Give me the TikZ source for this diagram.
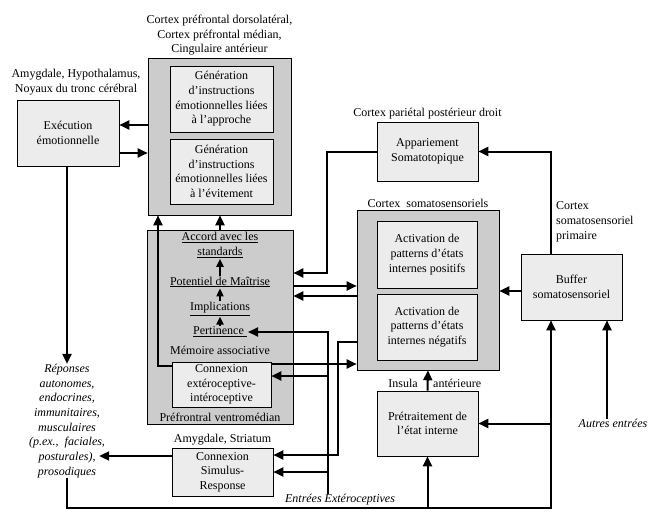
\documentclass[tikz,border=0pt]{standalone}
\usepackage{fontspec}
\setmainfont{Liberation Serif}
\usetikzlibrary{arrows.meta,positioning}

\begin{document}
\begin{tikzpicture}[x=1pt, y=-1pt,
  txt/.style={font=\fontsize{12}{14.7}\selectfont, align=center, inner sep=1pt},
  zone/.style={draw, rectangle, fill=gray!40, line width=0.6pt},
  bloc/.style={txt, draw, rectangle, fill=gray!15, line width=0.6pt},
  entree/.style={txt, inner sep=0pt, font=\fontsize{12}{14.7}\selectfont\itshape},
  ptr/.style={-{Triangle[length=10pt,width=9pt]}, line width=2pt},
  small/.style={-{Triangle[length=8pt,width=7pt]}, line width=2pt}
]
\useasboundingbox (0,0) rectangle (654,517);

% zones
\node[zone, minimum width=143pt, minimum height=157pt] (pfc) at (219.5,136.5) {};
\node[zone, minimum width=146pt, minimum height=194pt] (vmpfc) at (220,327) {};
\node[zone, minimum width=142pt, minimum height=160pt] (somato) at (428,290) {};

% blocs
\node[bloc, minimum width=103pt, minimum height=66pt] (approche) at (221.5,99) {Génération\\d’instructions\\émotionnelles liées\\à l’approche};
\node[bloc, minimum width=103pt, minimum height=65pt] (evitement) at (221.5,171.5) {Génération\\d’instructions\\émotionnelles liées\\à l’évitement};
\node[bloc, minimum width=102pt, minimum height=66pt] (exec) at (68,133) {Exécution\\émotionnelle};
\node[bloc, minimum width=99pt, minimum height=45pt] (cei) at (221.5,384.5) {Connexion\\extéroceptive-\\intéroceptive};
\node[bloc, minimum width=101pt, minimum height=48pt] (csr) at (222.5,472) {Connexion\\Simulus-\\Response};
\node[bloc, minimum width=101pt, minimum height=59pt] (appar) at (427.5,151.5) {Appariement\\Somatotopique};
\node[bloc, minimum width=100pt, minimum height=67pt] (positif) at (427,254.5) {Activation de\\patterns d’états\\internes positifs};
\node[bloc, minimum width=100pt, minimum height=66pt] (negatif) at (427,327) {Activation de\\patterns d’états\\internes négatifs};
\node[bloc, minimum width=101pt, minimum height=65pt] (pretr) at (427.5,423.5) {Prétraitement de\\l’état interne};
\node[bloc, minimum width=101pt, minimum height=66pt] (buffer) at (571.5,287) {Buffer\\somatosensoriel};

% labels
\node[txt, above=1pt of pfc] (pfclab) {Cortex préfrontal dorsolatéral,\\Cortex préfrontal médian,\\Cingulaire antérieur};
\node[txt] (execlab) at (76,82) {Amygdale, Hypothalamus,\\Noyaux du tronc cérébral};
\node[txt, above=1pt of appar] (apparlab) {Cortex pariétal postérieur droit};
\node[txt, above=1pt of somato] (somatolab) {Cortex~~somatosensoriels};
\node[txt, align=left, anchor=west] (primlab) at (555,222) {Cortex\\somatosensoriel\\primaire};
\node[txt, above=1pt of csr] (csrlab) {Amygdale, Striatum};
\node[txt, anchor=east] (insula) at (419,383) {Insula};
\node[txt, anchor=west] (anterieure) at (432,383) {antérieure};
\node[txt] (vmlab) at (220,417) {Préfrontral ventromédian};

% memoire associative
\node[txt] (accord) at (220,245) {\underline{Accord avec les}\\\underline{standards}};
\node[txt] (maitrise) at (220,282) {\underline{Potentiel de Maîtrise}};
\node[txt] (implic) at (220,309) {\underline{Implications}};
\node[txt] (pertin) at (220,332) {\underline{Pertinence~}};
\node[txt] (memoire) at (220,350) {Mémoire associative};

% entrees / sorties
\node[entree] (reponses) at (67,421) {Réponses\\autonomes,\\endocrines,\\immunitaires,\\musculaires\\(p.ex.,~~faciales,\\posturales),\\prosodiques};
\node[entree] (entrees) at (340,500) {Entrées Extéroceptives};
\node[entree] (autres) at (613,423) {Autres entrées};
\coordinate (fb) at (427.5,508);

% connexions
\draw[ptr] ([yshift=11.5pt]pfc.west) -- ([yshift=11.5pt]pfc.west -| exec.east);
\draw[ptr] ([yshift=-16.5pt]pfc.west -| exec.east) -- ([yshift=-16.5pt]pfc.west);
\draw[ptr] (exec.south -| reponses.north) -- (reponses.north);
\draw[ptr] ([yshift=18.5pt]cei.west) -| ([xshift=-61.5pt]pfc.south);
\draw[ptr] (vmpfc.north) -- (pfc.south -| vmpfc.north);
\draw[small] (maitrise.north) -- (accord.south);
\draw[small] (implic.north) -- (maitrise.south);
\draw[small] (pertin.north) -- (implic.south);

\draw[ptr] (appar.west) -- ++(-50,0) |- ([yshift=54pt]vmpfc.east);
\draw[ptr] ([yshift=41pt]vmpfc.east) -- ([yshift=41pt]vmpfc.east -| somato.west);
\draw[ptr] ([yshift=31pt]vmpfc.east -| somato.west) -- ([yshift=31pt]vmpfc.east);

\draw[ptr] ([xshift=-12pt]entrees.north) |- (pertin.east);
\draw[ptr] ([xshift=-12pt]entrees.north) |- ([yshift=8.5pt]cei.east);
\draw[ptr] ([xshift=-12pt]entrees.north) |- (csr.east);
\draw[ptr] ([yshift=-52pt]somato.west) -- ++(-19,0) |- ([yshift=17pt]csr.east);
\draw[ptr] ([yshift=20.5pt]cei.east) -- ([yshift=20.5pt]cei.east -| somato.west);
\draw[ptr] ([yshift=16pt]csr.west) -- ([xshift=-6pt,yshift=16pt]csr.west -| reponses.east);

\draw[ptr] (reponses.south) |- (fb) -| ([xshift=-20.5pt]buffer.south);
\draw[ptr] (fb) -- (pretr.south);
\draw[ptr] ([xshift=-20.5pt]buffer.south |- pretr.east) -- (pretr.east);
\draw[ptr] ([xshift=-20.5pt]buffer.north) |- (appar.east);
\draw[ptr] ([yshift=-4pt]buffer.west) -- ([yshift=-4pt]buffer.west -| somato.east);
\draw[ptr] ([xshift=35.5pt]buffer.south |- autres.north) -- ([xshift=35.5pt]buffer.south);
\draw[ptr] (pretr.north) -- (somato.south);
\end{tikzpicture}
\end{document}
